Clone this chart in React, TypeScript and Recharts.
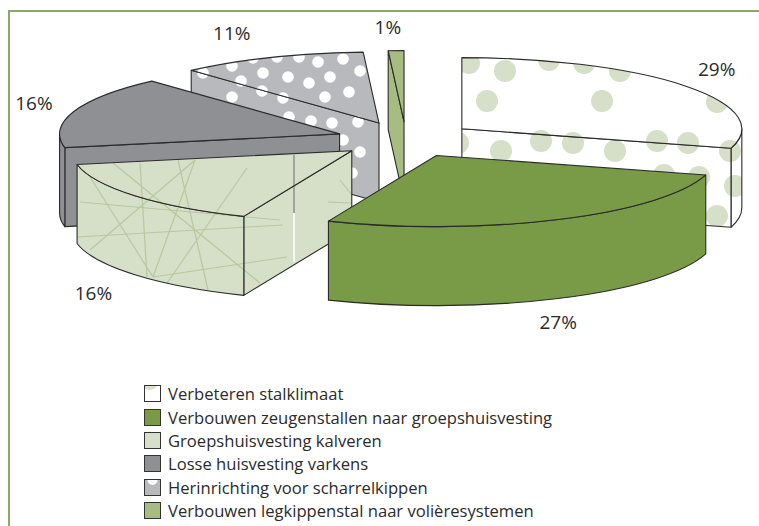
import { Legend, Pie, PieChart } from "recharts"

const categories = [
  "Verbeteren stalklimaat",
  "Verbouwen zeugenstallen naar groepshuisvesting",
  "Groepshuisvesting kalveren",
  "Losse huisvesting varkens",
  "Herinrichting voor scharrelkippen",
  "Verbouwen legkippenstal naar volièresystemen",
]
const shares = [29.4, 26.9, 15.6, 16.4, 10.8, 0.9]

const table = categories.map((name, i) => ({ name, value: shares[i] }))

// back to front, the slices overlap
const drawOrder = [5, 4, 3, 2, 0, 1]
const fills = ["url(#dotsGreen)", "#799a46", "url(#straw)", "#8f9094", "url(#dotsWhite)", "#a6bc80"]
const swatchFills = ["#ffffff", "#799a46", "#d6dfc7", "#8f9094", "#b8b9bc", "#a6bc80"]
const labelNudge = [[-2, 0], [-18, -2], [-9, 0], [0, 0], [-23, 2], [-7, 5]]

const TILT = 0.254
const DEPTH = 79
const EXPLODE = 0.25
const LINE = "#2b2b2b"

const greenDots = [
  [469, 63], [505, 71], [549, 60], [584, 63], [620, 71], [487, 101], [602, 101], [717, 102],
  [458, 143], [501, 151], [541, 141], [573, 143], [615, 151], [657, 141], [688, 143], [730, 151],
  [664, 175], [699, 177], [735, 186], [717, 216],
]
const whiteDots = [
  [203, 73], [232, 66], [253, 58], [277, 57], [299, 57], [318, 62], [343, 59], [360, 71],
  [330, 77], [309, 83], [288, 77], [263, 73], [241, 81], [262, 91], [283, 98], [325, 97],
  [349, 92], [232, 97], [289, 117], [311, 121], [332, 123], [358, 122], [343, 140], [360, 152], [352, 173],
]
const strawLines = [
  [113, 163, 260, 283], [140, 163, 147, 277], [178, 160, 208, 290], [195, 160, 153, 277],
  [90, 250, 195, 160], [80, 202, 280, 220], [77, 237, 283, 225], [90, 177, 153, 277],
  [247, 168, 167, 283], [153, 277, 287, 257], [340, 180, 352, 195], [328, 202, 352, 203],
]

const rad = (deg: number) => (deg * Math.PI) / 180

function Slice(props: any) {
  const { cx, cy, outerRadius, startAngle, endAngle, fill } = props
  const a = 90 - startAngle
  const b = 90 - endAngle
  const mid = (a + b) / 2
  const rx = outerRadius
  const ry = rx * TILT
  const ax = cx + EXPLODE * rx * Math.sin(rad(mid))
  const ay = cy - EXPLODE * ry * Math.cos(rad(mid))
  const px = (t: number) => ax + rx * Math.sin(rad(t))
  const py = (t: number, down = 0) => ay - ry * Math.cos(rad(t)) + down

  const faces: string[] = []
  if (Math.sin(rad(a)) < 0) {
    faces.push(`M${ax},${ay} L${px(a)},${py(a)} V${py(a, DEPTH)} L${ax},${ay + DEPTH} Z`)
  }
  if (Math.sin(rad(b)) > 0) {
    faces.push(`M${ax},${ay} L${px(b)},${py(b)} V${py(b, DEPTH)} L${ax},${ay + DEPTH} Z`)
  }
  const from = Math.max(a, 90)
  const to = Math.min(b, 270)
  if (from < to) {
    faces.push(
      `M${px(from)},${py(from)} A${rx},${ry} 0 0 1 ${px(to)},${py(to)} V${py(to, DEPTH)} ` +
        `A${rx},${ry} 0 0 0 ${px(from)},${py(from, DEPTH)} Z`,
    )
  }
  const large = b - a > 180 ? 1 : 0
  const top = `M${ax},${ay} L${px(a)},${py(a)} A${rx},${ry} 0 ${large} 1 ${px(b)},${py(b)} Z`

  return (
    <g stroke={LINE} strokeWidth={1.1} strokeLinejoin="round" fill={fill}>
      {faces.map((d) => (
        <path key={d} d={d} />
      ))}
      <path d={top} />
    </g>
  )
}

function PercentLabel(props: any) {
  const { cx, cy, outerRadius, midAngle, index, value } = props
  const clock = rad(90 - midAngle)
  const ry = outerRadius * TILT
  const front = Math.cos(clock) < 0 ? DEPTH : 0
  const [nx, ny] = labelNudge[index]
  return (
    <text
      x={cx + outerRadius * 1.4 * Math.sin(clock) + nx}
      y={cy - ry * 1.65 * Math.cos(clock) + front + ny}
      textAnchor="middle"
      dominantBaseline="central"
      fontSize={19}
      fill="#2b2b2b"
      style={{ fontFamily: "'Open Sans', sans-serif" }}
    >
      {Math.round(value)}%
    </text>
  )
}

function Swatch({ index }: { index: number }) {
  return (
    <svg width={17} height={17} style={{ display: "block", flex: "none" }}>
      <rect x={0.5} y={0.5} width={16} height={16} fill={swatchFills[index]} stroke="#333" />
      {index === 0 && <path d="M1,1 H13 Q8,7 1,4 Z" fill="#d6dfc7" />}
      {index === 4 && <path d="M3.5,1 H13.5 A5,5 0 0 1 3.5,1 Z" fill="#fff" />}
    </svg>
  )
}

function ChartLegend() {
  return (
    <div style={{ fontFamily: "'Open Sans', sans-serif", fontSize: 16.6, color: "#2b2b2b" }}>
      {categories.map((c, i) => (
        <div key={c} style={{ display: "flex", alignItems: "center", gap: 7, height: 23.4, whiteSpace: "nowrap" }}>
          <Swatch index={i} />
          <span>{c}</span>
        </div>
      ))}
    </div>
  )
}

export default function App() {
  return (
    <div style={{ position: "absolute", left: 0, top: 0, width: 759, height: 526, overflow: "hidden", background: "#fff" }}>
      <div style={{ position: "absolute", left: 8, top: 10, right: 0, bottom: 0, borderTop: "2px solid #8aa866", borderLeft: "2px solid #8aa866" }} />
      <PieChart width={759} height={526} margin={{ top: 0, right: 0, bottom: 0, left: 0 }}>
        <defs>
          <pattern id="dotsGreen" patternUnits="userSpaceOnUse" width={759} height={526}>
            <rect width={759} height={526} fill="#fff" />
            {greenDots.map(([x, y]) => (
              <circle key={`${x}-${y}`} cx={x} cy={y} r={11} fill="#d6dfc7" />
            ))}
          </pattern>
          <pattern id="dotsWhite" patternUnits="userSpaceOnUse" width={759} height={526}>
            <rect width={759} height={526} fill="#b8b9bc" />
            {whiteDots.map(([x, y]) => (
              <circle key={`${x}-${y}`} cx={x} cy={y} r={5.8} fill="#fff" />
            ))}
          </pattern>
          <pattern id="straw" patternUnits="userSpaceOnUse" width={759} height={526}>
            <rect width={759} height={526} fill="#d6dfc7" />
            {strawLines.map(([x1, y1, x2, y2]) => (
              <line key={`${x1}-${y1}`} x1={x1} y1={y1} x2={x2} y2={y2} stroke="#b7c99f" strokeWidth={1.2} />
            ))}
            {/* seam in the original artwork */}
            <line x1={294} y1={155} x2={294} y2={213} stroke="#8f9094" strokeWidth={1.5} />
            <line x1={294} y1={213} x2={294} y2={262} stroke="#fff" strokeWidth={1.5} />
          </pattern>
        </defs>
        {drawOrder.map((slice, n) => (
          <Pie
            key={slice}
            data={table}
            dataKey="value"
            nameKey="name"
            cx={406}
            cy={139.5}
            outerRadius={280}
            startAngle={90}
            endAngle={-270}
            stroke="none"
            isAnimationActive={false}
            legendType="none"
            shape={(p: any) =>
              p.name === categories[slice] ? <Slice {...p} fill={fills[slice]} /> : <g />
            }
            label={n === drawOrder.length - 1 ? PercentLabel : false}
            labelLine={false}
          />
        ))}
        <Legend
          content={<ChartLegend />}
          layout="vertical"
          wrapperStyle={{ left: 144, top: 382, bottom: "auto", width: 500 }}
        />
      </PieChart>
    </div>
  )
}
